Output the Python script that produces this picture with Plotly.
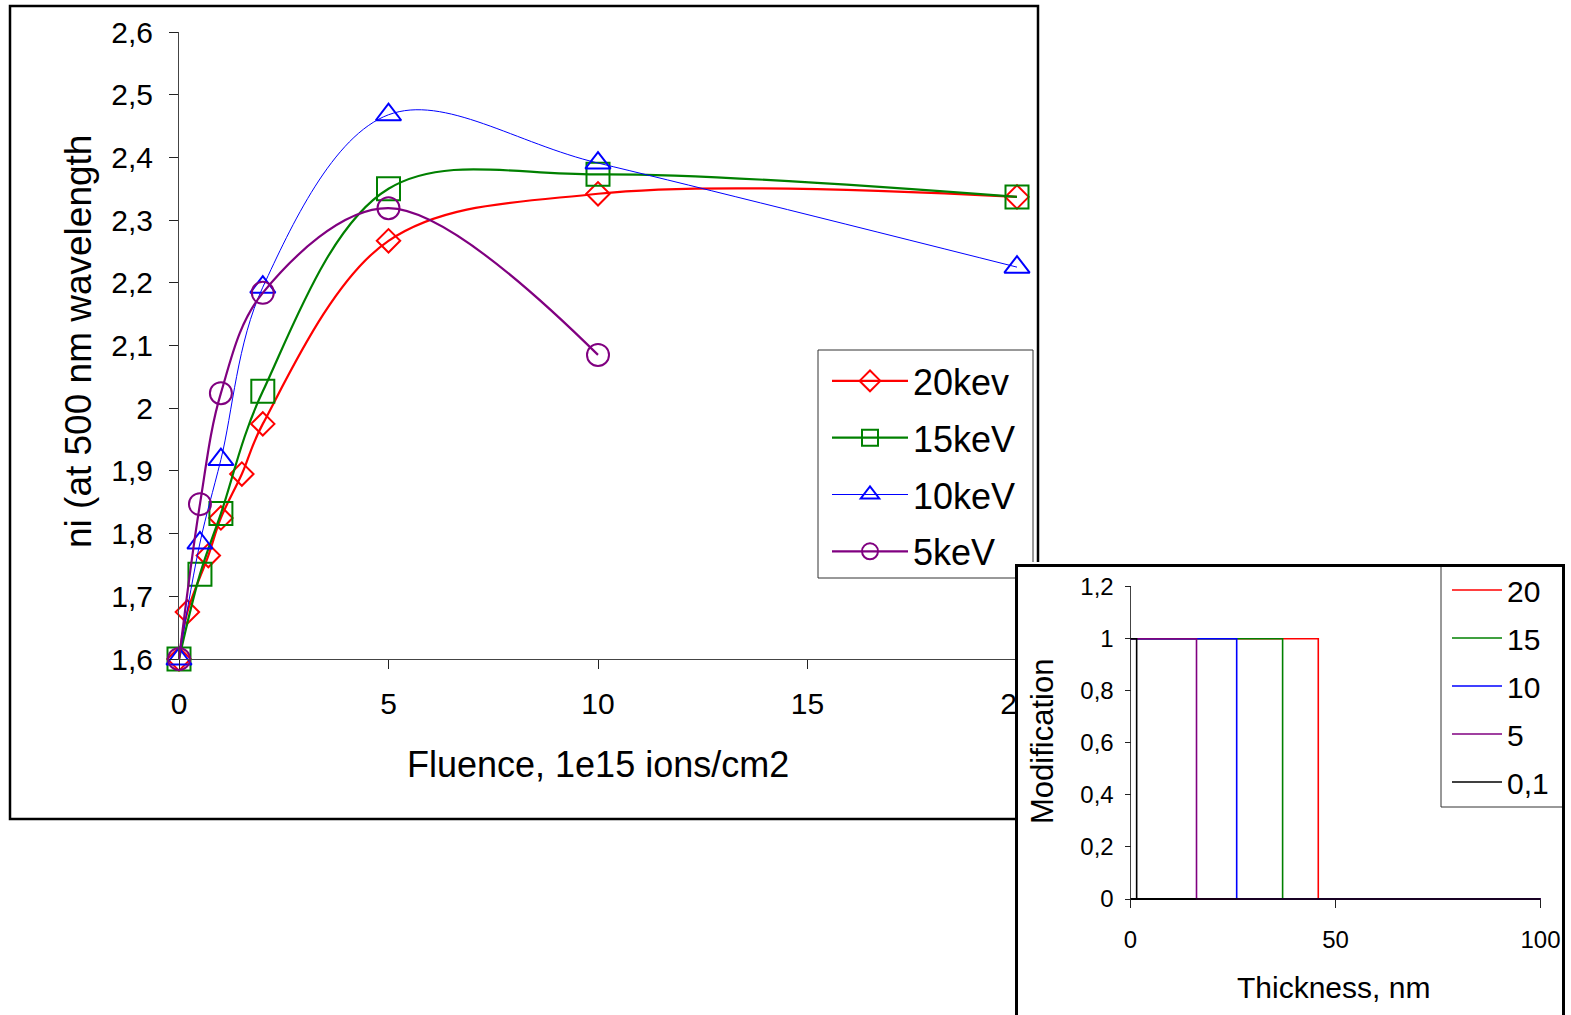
import plotly.graph_objects as go

W, H = 1571, 1015

# ---------------- main chart data ----------------
fluence_20 = [0, 0.2, 0.7, 1, 1.5, 2, 5, 10, 20]
ni_20 = [1.6, 1.675, 1.765, 1.825, 1.895, 1.975, 2.267, 2.342, 2.337]
fluence_15 = [0, 0.5, 1, 2, 5, 10, 20]
ni_15 = [1.6, 1.735, 1.832, 2.027, 2.35, 2.373, 2.337]
fluence_10 = [0, 0.5, 1, 2, 5, 10, 20]
ni_10 = [1.6, 1.785, 1.918, 2.193, 2.468, 2.391, 2.225]
fluence_5 = [0, 0.5, 1, 2, 5, 10]
ni_5 = [1.6, 1.847, 2.024, 2.184, 2.319, 2.085]

main_names = ["20kev", "15keV", "10keV", "5keV"]
main_colors = ["#FF0000", "#008000", "#0000FF", "#800080"]

y_tickvals = [1.6, 1.7, 1.8, 1.9, 2.0, 2.1, 2.2, 2.3, 2.4, 2.5, 2.6]
y_ticktext = ["1,6", "1,7", "1,8", "1,9", "2", "2,1", "2,2", "2,3", "2,4", "2,5", "2,6"]
x_tickvals = [0, 5, 10, 15, 20]
x_ticktext = ["0", "5", "10", "15", "20"]

# ---------------- inset data ----------------
thick_20 = [0, 45.8, 45.8, 100]
mod_20 = [1, 1, 0, 0]
thick_15 = [0, 37.1, 37.1, 100]
mod_15 = [1, 1, 0, 0]
thick_10 = [0, 25.9, 25.9, 100]
mod_10 = [1, 1, 0, 0]
thick_5 = [0, 16.1, 16.1, 100]
mod_5 = [1, 1, 0, 0]
thick_01 = [0, 1.5, 1.5, 100]
mod_01 = [1, 1, 0, 0]

inset_names = ["20", "15", "10", "5", "0,1"]
inset_colors = ["#FF0000", "#008000", "#0000FF", "#800080", "#000000"]

in_y_tickvals = [0, 0.2, 0.4, 0.6, 0.8, 1.0, 1.2]
in_y_ticktext = ["0", "0,2", "0,4", "0,6", "0,8", "1", "1,2"]
in_x_tickvals = [0, 50, 100]
in_x_ticktext = ["0", "50", "100"]

FONT = "Liberation Sans, Arial, sans-serif"

# pixel geometry of the inset axes
X2_ZERO, X2_SCALE = 1130.5, 4.1      # px at 0 nm, px per nm
Y2_ZERO, Y2_SCALE = 899.0, 260.3     # px at 0, px per unit
IN_LEFT, IN_TOP = 1015, 562


def x2(px):
    return (px - X2_ZERO) / X2_SCALE


def y2(py):
    return (Y2_ZERO - py) / Y2_SCALE


fig = go.Figure()

main_x = [fluence_20, fluence_15, fluence_10, fluence_5]
main_y = [ni_20, ni_15, ni_10, ni_5]
symbols = ["diamond-open", "square-open", "triangle-up-open", "circle-open"]
msizes = [18, 23, 22, 22]
lwidths = [2.2, 2.2, 1.0, 2.2]
for i in range(4):
    fig.add_trace(go.Scatter(
        x=main_x[i], y=main_y[i], mode="lines+markers", name=main_names[i],
        line=dict(color=main_colors[i], width=lwidths[i], shape="spline", smoothing=1),
        marker=dict(symbol=symbols[i], size=msizes[i], color=main_colors[i],
                    line=dict(width=2, color=main_colors[i])),
        cliponaxis=False, legend="legend", legendgroup="m%d" % i,
        xaxis="x", yaxis="y",
    ))

inset_x = [thick_20, thick_15, thick_10, thick_5, thick_01]
inset_y = [mod_20, mod_15, mod_10, mod_5, mod_01]
for i in range(5):
    fig.add_trace(go.Scatter(
        x=inset_x[i], y=inset_y[i], mode="lines", name=inset_names[i],
        line=dict(color=inset_colors[i], width=1.6),
        legend="legend2", legendgroup="i%d" % i,
        xaxis="x2", yaxis="y2",
    ))

axis_common = dict(showgrid=False, zeroline=False, ticks="outside", tickcolor="#222",
                   tickwidth=1, automargin=False)

fig.update_layout(
    width=W, height=H, autosize=False,
    margin=dict(l=0, r=0, t=0, b=0, pad=0, autoexpand=False),
    paper_bgcolor="white", plot_bgcolor="white",
    font=dict(family=FONT, color="black"),
    xaxis=dict(domain=[179 / W, 1017 / W], range=[0, 20], anchor="y",
               tickvals=x_tickvals, ticktext=x_ticktext, ticklen=9,
               showline=True, linecolor="#444", linewidth=1,
               tickfont=dict(size=30, family=FONT), ticklabelstandoff=9,
               **axis_common),
    yaxis=dict(domain=[(H - 659) / H, (H - 32) / H], range=[1.6, 2.6], anchor="x",
               tickvals=y_tickvals, ticktext=y_ticktext, ticklen=9,
               showline=True, linecolor="#444", linewidth=1,
               tickfont=dict(size=30, family=FONT), ticklabelstandoff=10,
               **axis_common),
    xaxis2=dict(domain=[IN_LEFT / W, 1], range=[x2(IN_LEFT), x2(W)],
                anchor="free", position=(H - Y2_ZERO) / H,
                tickvals=in_x_tickvals, ticktext=in_x_ticktext, ticklen=8,
                showline=False, tickfont=dict(size=24, family=FONT),
                ticklabelstandoff=11, **axis_common),
    yaxis2=dict(domain=[0, (H - IN_TOP) / H], range=[y2(H), y2(IN_TOP)],
                anchor="free", position=X2_ZERO / W,
                tickvals=in_y_tickvals, ticktext=in_y_ticktext, ticklen=6,
                showline=False, tickfont=dict(size=24, family=FONT),
                ticklabelstandoff=6, **axis_common),
    legend=dict(x=827 / W, y=(H - 351) / H, xanchor="left", yanchor="top",
                bgcolor="rgba(0,0,0,0)", borderwidth=0,
                font=dict(size=36, family=FONT), itemwidth=76,
                tracegroupgap=7, traceorder="grouped"),
    legend2=dict(x=1447 / W, y=(H - 564) / H, xanchor="left", yanchor="top",
                 bgcolor="rgba(0,0,0,0)", borderwidth=0,
                 font=dict(size=30, family=FONT), itemwidth=50,
                 tracegroupgap=6, traceorder="grouped"),
    showlegend=True,
)

shapes = [
    # main chart outer frame
    dict(type="rect", xref="paper", yref="paper", x0=10 / W, x1=1038 / W,
         y0=(H - 819) / H, y1=(H - 6) / H, line=dict(color="black", width=2.5),
         fillcolor="rgba(0,0,0,0)", layer="below"),
    # main legend frame
    dict(type="rect", xref="paper", yref="paper", x0=818 / W, x1=1033 / W,
         y0=(H - 578) / H, y1=(H - 350) / H, line=dict(color="#333", width=1),
         fillcolor="rgba(0,0,0,0)", layer="below"),
    # inset axes lines
    dict(type="line", xref="x2", yref="y2", x0=0, x1=0, y0=0, y1=1.2,
         line=dict(color="#444", width=1), layer="below"),
    dict(type="line", xref="x2", yref="y2", x0=0, x1=100, y0=0, y1=0,
         line=dict(color="black", width=2.2), layer="below"),
    # inset legend frame
    dict(type="rect", xref="x2", yref="y2", x0=x2(1441), x1=x2(1563),
         y0=y2(807), y1=y2(565), line=dict(color="#333", width=1),
         fillcolor="rgba(0,0,0,0)", layer="below"),
    # inset outer frame
    dict(type="rect", xref="x2", yref="y2", x0=x2(1016.5), x1=x2(1563.5),
         y0=y2(1030), y1=y2(565.5), line=dict(color="black", width=3),
         fillcolor="rgba(0,0,0,0)", layer="below"),
]
fig.update_layout(shapes=shapes)

annotations = [
    dict(text="ni (at 500 nm wavelength", x=78 / W, y=(H - 342) / H, xref="paper",
         yref="paper", showarrow=False, textangle=-90, font=dict(size=37, family=FONT),
         xanchor="center", yanchor="middle"),
    dict(text="Fluence, 1e15 ions/cm2", x=598 / W, y=(H - 764) / H, xref="paper",
         yref="paper", showarrow=False, font=dict(size=36, family=FONT),
         xanchor="center", yanchor="middle"),
    dict(text="Modification", x=1042 / W, y=(H - 742) / H, xref="paper",
         yref="paper", showarrow=False, textangle=-90, font=dict(size=31, family=FONT),
         xanchor="center", yanchor="middle"),
    dict(text="Thickness, nm", x=1333 / W, y=(H - 987) / H, xref="paper",
         yref="paper", showarrow=False, font=dict(size=30, family=FONT),
         xanchor="center", yanchor="middle"),
]
fig.update_layout(annotations=annotations)

post = (
    "document.documentElement.style.margin='0';"
    "document.body.style.margin='0';document.body.style.padding='0';"
    "document.body.style.overflow='hidden';"
    "var gds=document.getElementsByClassName('plotly-graph-div');"
    "for(var k=0;k<gds.length;k++){gds[k].style.position='fixed';"
    "gds[k].style.left='0px';gds[k].style.top='0px';}"
)
fig.write_html("out.html", config={"displayModeBar": False, "responsive": False},
               post_script=post)
